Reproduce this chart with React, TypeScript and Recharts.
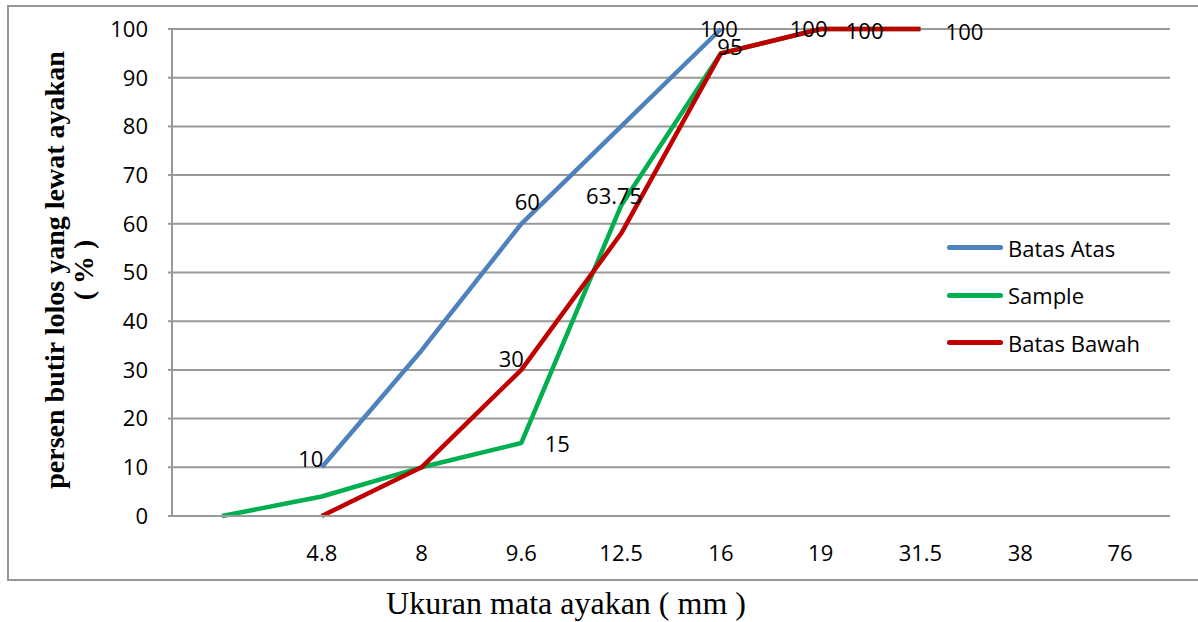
import { LineChart, Line, XAxis, YAxis, CartesianGrid, Legend, LabelList } from "recharts";

const categories = ["", "4.8", "8", "9.6", "12.5", "16", "19", "31.5", "38", "76"];
const batasAtas = [null, 10, 34, 60, 80, 100, null, null, null, null];
const sample = [0, 4, 10, 15, 63.75, 95, 100, 100, null, null];
const batasBawah = [null, 0, 10, 30, 58, 95, 100, 100, null, null];
const yTicks = [0, 10, 20, 30, 40, 50, 60, 70, 80, 90, 100];
const legendOrder = ["Batas Atas", "Sample", "Batas Bawah"];

const data = categories.map((c, i) => ({
  size: c,
  atas: batasAtas[i],
  sample: sample[i],
  bawah: batasBawah[i],
}));

// label offsets (dx, dy) per point index
const labelsAtas: Record<number, [number, number]> = { 1: [-11, -9], 3: [6, -23], 5: [-2, -1] };
const labelsSample: Record<number, [number, number]> = { 3: [36, 0], 4: [-7, -11], 6: [44, 1], 7: [44, 2] };
const labelsBawah: Record<number, [number, number]> = { 3: [-10, -12], 5: [9, -7], 6: [-12, -1] };

const FONT = "'Open Sans', sans-serif";

const makeLabel = (offsets: Record<number, [number, number]>) => (props: any) => {
  const { x, y, value, index } = props;
  const off = offsets[index];
  if (!off || value == null) return null;
  return (
    <text
      x={x + off[0]}
      y={y + off[1]}
      textAnchor="middle"
      dominantBaseline="central"
      fontSize={22}
      fontFamily={FONT}
      fill="#000"
    >
      {value}
    </text>
  );
};

const renderLegend = (props: any) => {
  const items = [...(props.payload || [])].sort(
    (a: any, b: any) => legendOrder.indexOf(a.value) - legendOrder.indexOf(b.value)
  );
  return (
    <div>
      {items.map((p: any) => (
        <div key={p.value} style={{ display: "flex", alignItems: "center", height: 47.5 }}>
          <span
            style={{ display: "inline-block", width: 56, height: 5, borderRadius: 3, background: p.color, marginRight: 5 }}
          />
          <span style={{ fontFamily: FONT, fontSize: 22, color: "#000" }}>{p.value}</span>
        </div>
      ))}
    </div>
  );
};

const YTitle = () => (
  <g fontFamily="'Liberation Serif', 'Times New Roman', serif" fontWeight="bold" fontSize={28} fill="#000">
    <text x={64} y={270} transform="rotate(-90 64 270)" textAnchor="middle">
      persen butir lolos yang lewat ayakan
    </text>
    <text x={93} y={270} transform="rotate(-90 93 270)" textAnchor="middle">
      ( % )
    </text>
  </g>
);

const XTitle = () => (
  <text x={566} y={614} textAnchor="middle" fontFamily="'Liberation Serif', 'Times New Roman', serif" fontSize={32} fill="#000">
    Ukuran mata ayakan ( mm )
  </text>
);

export default function App() {
  return (
    <div style={{ position: "absolute", left: 0, top: 0, width: 1198, height: 622, background: "#fff" }}>
      <div
        style={{
          position: "absolute",
          left: 7,
          top: 5,
          width: 1189,
          height: 572,
          borderTop: "2px solid #969696",
          borderLeft: "2px solid #969696",
          borderBottom: "2px solid #969696",
        }}
      />
      <LineChart
        width={1198}
        height={622}
        data={data}
        margin={{ top: 29, right: 28, bottom: 76, left: 112 }}
        style={{ position: "absolute", left: 0, top: 0 }}
      >
        <CartesianGrid vertical={false} stroke="#999" strokeWidth={2} />
        <XAxis
          dataKey="size"
          height={30}
          padding={{ left: 50, right: 50 }}
          axisLine={{ stroke: "#999", strokeWidth: 2 }}
          tickLine={false}
          tickSize={0}
          tickMargin={29}
          interval={0}
          tick={{ fontSize: 22, fontFamily: FONT, fill: "#000" }}
          label={{ content: () => <XTitle /> }}
        />
        <YAxis
          width={60}
          domain={[0, 100]}
          ticks={yTicks}
          interval={0}
          axisLine={{ stroke: "#999", strokeWidth: 2 }}
          tickLine={{ stroke: "#999", strokeWidth: 2 }}
          tickSize={4}
          tickMargin={20}
          tick={{ fontSize: 22, fontFamily: FONT, fill: "#000" }}
          label={{ content: () => <YTitle /> }}
        />
        <Legend
          verticalAlign="middle"
          layout="horizontal"
          content={renderLegend}
          wrapperStyle={{ left: 947, top: 224, width: 230 }}
        />
        <Line
          name="Batas Atas"
          dataKey="atas"
          stroke="#4F81BD"
          strokeWidth={4.5}
          dot={false}
          strokeLinejoin="round"
          isAnimationActive={false}
        >
          <LabelList dataKey="atas" content={makeLabel(labelsAtas)} />
        </Line>
        <Line
          name="Sample"
          dataKey="sample"
          stroke="#00B050"
          strokeWidth={4.5}
          dot={false}
          strokeLinejoin="round"
          isAnimationActive={false}
        >
          <LabelList dataKey="sample" content={makeLabel(labelsSample)} />
        </Line>
        <Line
          name="Batas Bawah"
          dataKey="bawah"
          stroke="#C00000"
          strokeWidth={4.5}
          dot={false}
          strokeLinejoin="round"
          isAnimationActive={false}
        >
          <LabelList dataKey="bawah" content={makeLabel(labelsBawah)} />
        </Line>
      </LineChart>
    </div>
  );
}
